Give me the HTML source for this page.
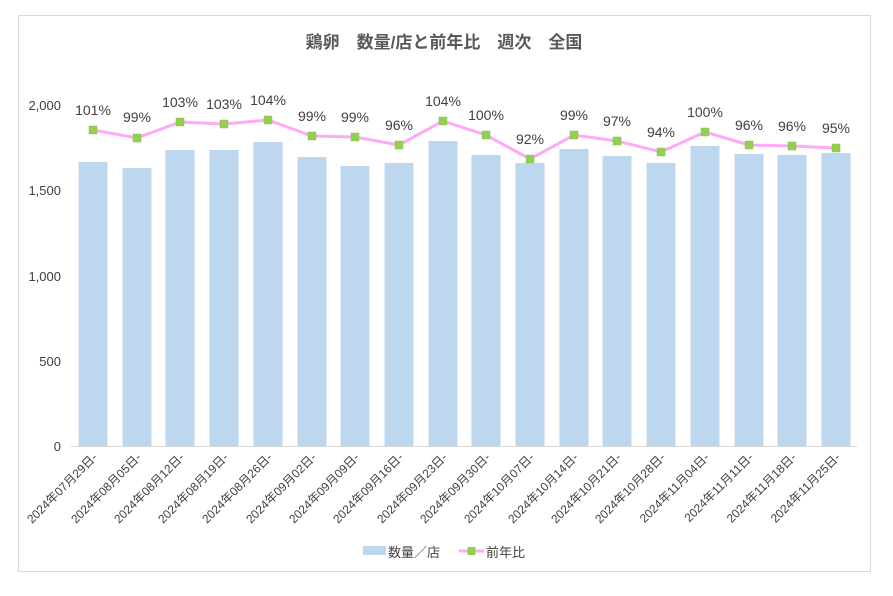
<!DOCTYPE html>
<html><head><meta charset="utf-8"><style>
body{margin:0;background:#fff}
svg text{font-family:"Liberation Sans","Noto Sans CJK JP",sans-serif;fill:#404040}
</style></head><body>
<svg width="893" height="591" xmlns="http://www.w3.org/2000/svg">
<rect x="0" y="0" width="893" height="591" fill="#fff"/>
<rect x="18.5" y="15.5" width="852" height="556" fill="none" stroke="#d9d9d9"/>
<text x="444" y="48" text-anchor="middle" font-size="17" font-weight="bold" style="fill:#595959">鶏卵　数量/店と前年比　週次　全国</text>
<g font-size="13" text-anchor="end">
<text x="61" y="451">0</text><text x="61" y="366">500</text><text x="61" y="281">1,000</text><text x="61" y="195">1,500</text><text x="61" y="110">2,000</text>
</g>
<line x1="71" y1="446.5" x2="857" y2="446.5" stroke="#d9d9d9"/>
<g fill="#bdd7ee">
<rect x="78.5" y="162" width="29" height="284"/>
<rect x="122.5" y="168" width="29" height="278"/>
<rect x="165.5" y="150" width="29" height="296"/>
<rect x="209.5" y="150" width="29" height="296"/>
<rect x="253.5" y="142" width="29" height="304"/>
<rect x="297.5" y="157" width="29" height="289"/>
<rect x="340.5" y="166" width="29" height="280"/>
<rect x="384.5" y="163" width="29" height="283"/>
<rect x="428.5" y="141" width="29" height="305"/>
<rect x="471.5" y="155" width="29" height="291"/>
<rect x="515.5" y="163" width="29" height="283"/>
<rect x="559.5" y="149" width="29" height="297"/>
<rect x="602.5" y="156" width="29" height="290"/>
<rect x="646.5" y="163" width="29" height="283"/>
<rect x="690.5" y="146" width="29" height="300"/>
<rect x="734.5" y="154" width="29" height="292"/>
<rect x="777.5" y="155" width="29" height="291"/>
<rect x="821.5" y="153" width="29" height="293"/>
</g>
<polyline fill="none" stroke="#ffaaf5" stroke-width="3" points="93,130 137,138 180,122 224,124 268,120 312,136 355,137 399,145 443,121 486,135 530,159 574,135 617,141 661,152 705,132 749,145 792,146 836,148"/>
<g fill="#92d050" stroke="#8cc04c" stroke-width="0.5">
<rect x="89" y="126" width="8" height="8"/><rect x="133" y="134" width="8" height="8"/><rect x="176" y="118" width="8" height="8"/><rect x="220" y="120" width="8" height="8"/><rect x="264" y="116" width="8" height="8"/><rect x="308" y="132" width="8" height="8"/><rect x="351" y="133" width="8" height="8"/><rect x="395" y="141" width="8" height="8"/><rect x="439" y="117" width="8" height="8"/><rect x="482" y="131" width="8" height="8"/><rect x="526" y="155" width="8" height="8"/><rect x="570" y="131" width="8" height="8"/><rect x="613" y="137" width="8" height="8"/><rect x="657" y="148" width="8" height="8"/><rect x="701" y="128" width="8" height="8"/><rect x="745" y="141" width="8" height="8"/><rect x="788" y="142" width="8" height="8"/><rect x="832" y="144" width="8" height="8"/>
</g>
<g font-size="14" text-anchor="middle">
<text x="93" y="115">101%</text><text x="137" y="122">99%</text><text x="180" y="107">103%</text><text x="224" y="109">103%</text><text x="268" y="105">104%</text><text x="312" y="121">99%</text><text x="355" y="122">99%</text><text x="399" y="130">96%</text><text x="443" y="106">104%</text><text x="486" y="120">100%</text><text x="530" y="144">92%</text><text x="574" y="120">99%</text><text x="617" y="126">97%</text><text x="661" y="137">94%</text><text x="705" y="117">100%</text><text x="749" y="130">96%</text><text x="792" y="131">96%</text><text x="836" y="133">95%</text>
</g>
<g font-size="12" text-anchor="end">
<text transform="translate(98,458) rotate(-45)">2024年07月29日-</text>
<text transform="translate(142,458) rotate(-45)">2024年08月05日-</text>
<text transform="translate(185,458) rotate(-45)">2024年08月12日-</text>
<text transform="translate(229,458) rotate(-45)">2024年08月19日-</text>
<text transform="translate(273,458) rotate(-45)">2024年08月26日-</text>
<text transform="translate(317,458) rotate(-45)">2024年09月02日-</text>
<text transform="translate(360,458) rotate(-45)">2024年09月09日-</text>
<text transform="translate(404,458) rotate(-45)">2024年09月16日-</text>
<text transform="translate(448,458) rotate(-45)">2024年09月23日-</text>
<text transform="translate(491,458) rotate(-45)">2024年09月30日-</text>
<text transform="translate(535,458) rotate(-45)">2024年10月07日-</text>
<text transform="translate(579,458) rotate(-45)">2024年10月14日-</text>
<text transform="translate(622,458) rotate(-45)">2024年10月21日-</text>
<text transform="translate(666,458) rotate(-45)">2024年10月28日-</text>
<text transform="translate(710,458) rotate(-45)">2024年11月04日-</text>
<text transform="translate(754,458) rotate(-45)">2024年11月11日-</text>
<text transform="translate(797,458) rotate(-45)">2024年11月18日-</text>
<text transform="translate(841,458) rotate(-45)">2024年11月25日-</text>
</g>
<rect x="363" y="546" width="23" height="9" fill="#bdd7ee"/>
<text x="388" y="557" font-size="13">数量／店</text>
<line x1="459" y1="551" x2="484" y2="551" stroke="#ffaaf5" stroke-width="3"/>
<rect x="467.5" y="547" width="8" height="8" fill="#92d050"/>
<text x="486" y="557" font-size="13">前年比</text>
</svg>
</body></html>
